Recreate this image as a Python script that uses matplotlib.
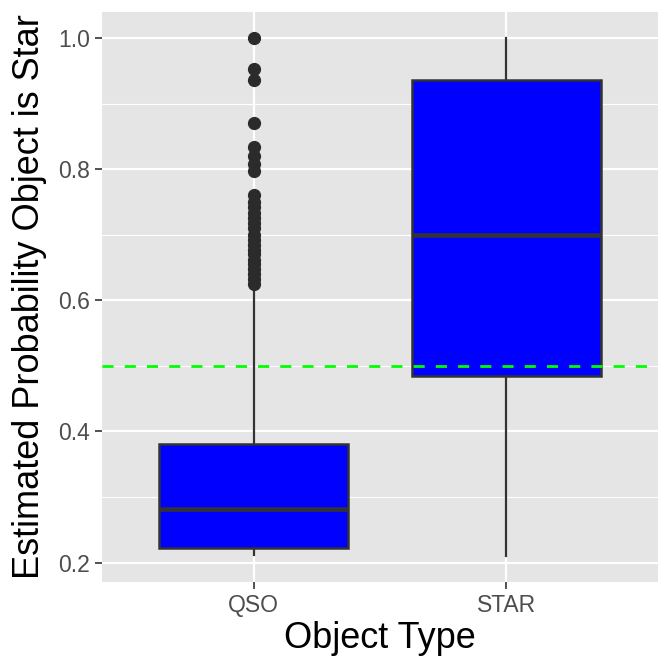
import matplotlib.pyplot as plt
from matplotlib.ticker import MultipleLocator

# object types and box summary
categories = ["QSO", "STAR"]
whisker_lo = [0.212, 0.210]
q1 = [0.222, 0.484]
median = [0.281, 0.699]
q3 = [0.381, 0.936]
whisker_hi = [0.621, 1.000]
qso_outliers = [0.625, 0.632, 0.640, 0.648, 0.655, 0.662, 0.670, 0.677, 0.685,
                0.692, 0.700, 0.710, 0.718, 0.725, 0.733, 0.742, 0.750, 0.760,
                0.797, 0.808, 0.820, 0.834, 0.871, 0.936, 0.953, 1.000]
star_outliers = []
threshold = 0.5

plt.rcParams['font.family'] = ['Liberation Sans', 'DejaVu Sans']

fig = plt.figure(figsize=(6.72, 6.72), dpi=100)
ax = fig.add_axes([0.152, 0.134, 0.827, 0.848])
ax.set_facecolor('#E5E5E5')

stats = []
fliers = [qso_outliers, star_outliers]
for i in range(len(categories)):
    stats.append({'whislo': whisker_lo[i], 'q1': q1[i], 'med': median[i],
                  'q3': q3[i], 'whishi': whisker_hi[i], 'fliers': fliers[i],
                  'label': categories[i]})

# grid lines
ax.set_axisbelow(True)
ax.yaxis.set_major_locator(MultipleLocator(0.2))
ax.yaxis.set_minor_locator(MultipleLocator(0.1))
ax.grid(which='major', color='white', linewidth=1.6)
ax.grid(which='minor', axis='y', color='white', linewidth=0.8)

ax.bxp(stats, positions=[1, 2], widths=0.75, patch_artist=True, showcaps=False,
       boxprops=dict(facecolor='#0000FF', edgecolor='#333333', linewidth=1.8),
       medianprops=dict(color='#333333', linewidth=3.3),
       whiskerprops=dict(color='#333333', linewidth=1.6),
       flierprops=dict(marker='o', markerfacecolor='#2B2B2B', markeredgecolor='#2B2B2B',
                       markersize=8.5, linestyle='none'),
       zorder=3)

# threshold line drawn over the boxes
ax.axhline(threshold, color='#00FF00', linestyle=(0, (4, 4)), linewidth=2.0, zorder=4)

ax.set_xlim(0.4, 2.6)
ax.set_ylim(0.1705, 1.0395)
ax.set_xticks([1, 2])
ax.set_xticklabels(categories)
ax.set_yticks([0.2, 0.4, 0.6, 0.8, 1.0])
ax.set_yticklabels(["0.2", "0.4", "0.6", "0.8", "1.0"])
ax.tick_params(axis='both', which='major', length=5, width=1.2, color='#333333',
               labelcolor='#4D4D4D', labelsize=16.5)
ax.tick_params(axis='x', pad=3.5)
ax.tick_params(axis='y', pad=4)
ax.tick_params(axis='y', which='minor', length=0)
for s in ax.spines.values():
    s.set_visible(False)

ax.set_xlabel("Object Type", fontsize=26, labelpad=3)
ax.set_ylabel("Estimated Probability Object is Star", fontsize=26, labelpad=8)

fig.savefig("out.png", dpi=100)
plt.close()
